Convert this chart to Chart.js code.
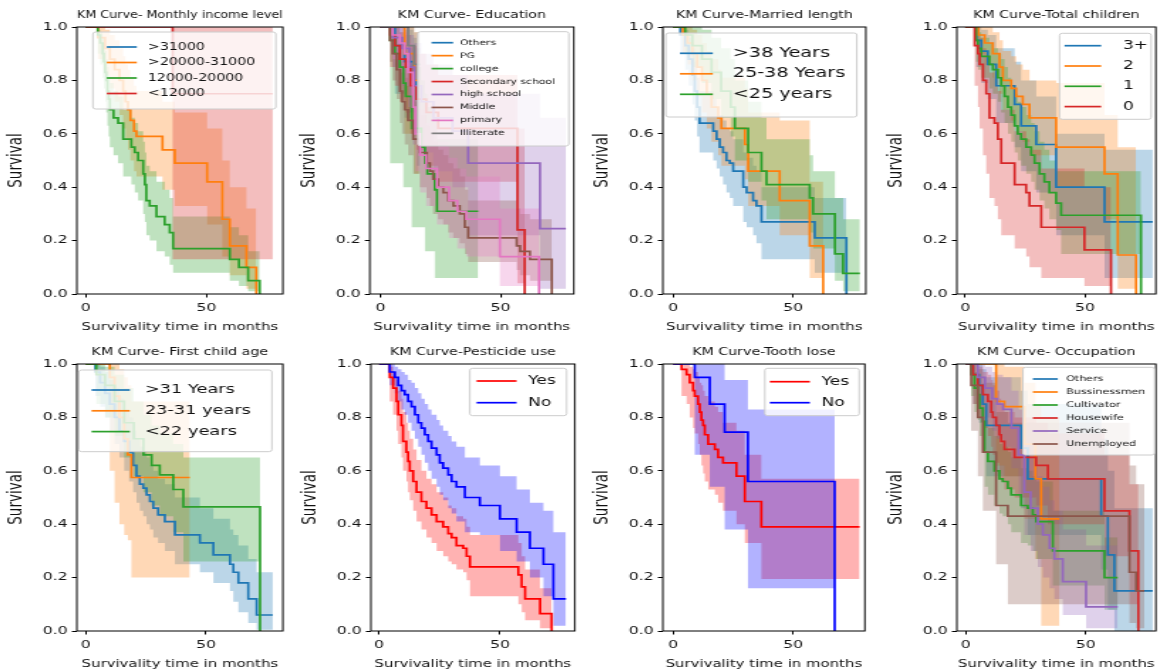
<!DOCTYPE html>
<html>
<head>
<meta charset="utf-8">
<title>KM curves</title>
<script src="https://cdn.jsdelivr.net/npm/chart.js@4.4.1/dist/chart.umd.min.js"></script>
<style>
  html, body { margin: 0; padding: 0; background: #fff; }
  body { width: 1158px; height: 671px; position: relative; overflow: hidden; }
  canvas { position: absolute; transform-origin: 0 0; }
</style>
</head>
<body>
<script>
// the reference text is wide for its height, so each panel is drawn narrow
// and widened with a css transform
const SX = 1.42;
const FONT = '"DejaVu Sans", sans-serif';
const TAB10 = ['#1f77b4', '#ff7f0e', '#2ca02c', '#d62728', '#9467bd', '#8c564b', '#e377c2', '#7f7f7f'];
const RED_BLUE = ['#ff0000', '#0000ff'];
const xTicks = [0, 50];
const yTicks = [0, 0.2, 0.4, 0.6, 0.8, 1.0];

// Monthly income level
const incomeGroups = ['>31000', '>20000-31000', '12000-20000', '<12000'];
const incomeTime = [
  [0, 5],
  [0, 5, 8, 10, 12, 14, 15.5, 16.5, 17.5, 18.5, 20, 21, 31.8, 36.9, 50.3, 56.6, 59.7, 66.6, 70.7],
  [0, 5, 6, 7, 7.5, 8, 8.5, 9, 9.5, 10, 11.5, 13.4, 15.5, 18.9, 20.3, 21.7, 23.8, 24.5, 25.1, 26.5, 29.3, 32.7, 34.8, 36.2, 59.7, 63.5, 67.3, 72.1],
  [0, 36, 77.5]
];
const incomeSurv = [
  [1, 1],
  [1, .96, .92, .88, .84, .80, .76, .72, .69, .65, .61, .59, .54, .49, .42, .28, .18, .10, 0],
  [1, .97, .94, .90, .87, .83, .80, .76, .73, .69, .66, .64, .58, .55, .53, .50, .45, .41, .35, .33, .29, .26, .23, .17, .13, .10, .05, 0],
  [1, .75, .75]
];
const incomeLow = [
  [1, 1],
  [1, .88, .82, .77, .72, .67, .62, .58, .54, .50, .46, .44, .39, .33, .26, .14, .07, .02, 0],
  [1, .90, .86, .81, .77, .72, .68, .63, .59, .55, .52, .49, .44, .41, .38, .35, .30, .27, .22, .20, .16, .14, .11, .08, .05, .03, .01, 0],
  [1, .13, .13]
];
const incomeHigh = [
  [1, 1],
  [1, 1, .99, .97, .95, .92, .89, .86, .84, .81, .78, .76, .72, .68, .62, .50, .40, .32, 0],
  [1, .99, .98, .96, .94, .91, .88, .85, .82, .79, .76, .74, .69, .66, .64, .61, .57, .53, .48, .46, .42, .39, .36, .29, .25, .22, .16, 0],
  [1, 1, 1]
];

// Education
const eduGroups = ['Others', 'PG', 'college', 'Secondary school', 'high school', 'Middle', 'primary', 'Illiterate'];
const eduTime = [
  [0, 6, 10, 13.6, 15, 16.5],
  [0, 10, 14, 16],
  [0, 4, 6, 8, 9.5, 10.5, 13, 17, 18.5, 19.5, 22.6, 23.5, 40.7],
  [0, 4, 6, 8, 10.5, 12.5, 15, 19, 24, 57, 60],
  [0, 5, 9, 12, 14, 17, 22, 30, 36.5, 66.4, 77.2],
  [0, 3.9, 5, 6.7, 8.1, 9, 10.1, 11.5, 13.6, 16.4, 19.2, 20.6, 21.9, 24, 26.1, 28.2, 30.3, 33, 35.1, 36.5, 56.7, 58.1, 62.2, 71.3],
  [0, 5, 8, 10, 11.5, 13.5, 14.5, 16.5, 19, 23.5, 28.5, 32, 35.7, 49.7, 66],
  [0, 11.5, 14, 16.5]
];
const eduSurv = [
  [1, .93, .87, .80, .73, .73],
  [1, .90, .80, .80],
  [1, .95, .90, .85, .79, .74, .62, .55, .49, .45, .39, .31, .31],
  [1, .97, .93, .88, .85, .78, .73, .68, .62, .24, 0],
  [1, .96, .92, .85, .78, .72, .66, .61, .49, .245, .245],
  [1, .95, .90, .84, .76, .72, .69, .65, .58, .53, .49, .46, .43, .40, .38, .35, .33, .30, .25, .21, .18, .16, .13, 0],
  [1, .97, .94, .90, .83, .70, .60, .52, .47, .40, .35, .31, .28, .14, 0],
  [1, .93, .86, .86]
];
const eduLow = [
  [1, .75, .66, .56, .48, .48],
  [1, .60, .45, .45],
  [1, .49, .49, .49, .40, .40, .25, .25, .16, .16, .06, .06, .06],
  [1, .85, .78, .72, .68, .60, .54, .48, .42, .04, 0],
  [1, .85, .78, .68, .60, .53, .46, .40, .22, .02, .02],
  [1, .87, .80, .73, .64, .60, .56, .52, .45, .40, .36, .33, .30, .28, .26, .23, .21, .19, .15, .12, .09, .07, .05, 0],
  [1, .88, .83, .78, .70, .56, .46, .38, .33, .26, .21, .17, .14, .03, 0],
  [1, .70, .60, .60]
];
const eduHigh = [
  [1, 1, .99, .96, .92, .92],
  [1, 1, .98, .98],
  [1, 1, 1, .98, .95, .92, .85, .80, .75, .70, .66, .58, .58],
  [1, 1, 1, .98, .97, .93, .90, .86, .82, .62, 0],
  [1, 1, 1, .97, .94, .90, .86, .82, .75, .66, .66],
  [1, 1, .97, .93, .87, .84, .81, .78, .72, .67, .63, .60, .57, .54, .52, .49, .47, .44, .39, .35, .32, .30, .28, 0],
  [1, 1, 1, .98, .94, .85, .77, .69, .64, .57, .51, .47, .44, .32, 0],
  [1, 1, .98, .98]
];

// Married length
const marriedGroups = ['>38 Years', '25-38 Years', '<25 years'];
const marriedTime = [
  [0, 3, 5, 6.5, 8, 9, 10, 11, 16.7, 18.1, 19.4, 20.8, 22.2, 23.6, 25, 29.2, 30.6, 33.3, 34.7, 36.8, 59, 72.2],
  [0, 4, 6, 8, 10, 12, 14, 16, 18.75, 20.1, 29.9, 31.25, 44.4, 56.9, 62.5],
  [0, 5, 8, 12, 16, 20, 24, 25.7, 31.25, 36.8, 38.9, 56.9, 58.3, 67.4, 70.8, 77.8]
];
const marriedSurv = [
  [1, .97, .93, .88, .82, .76, .70, .64, .61, .58, .55, .53, .50, .49, .46, .40, .38, .35, .33, .27, .21, 0],
  [1, .97, .94, .90, .85, .80, .75, .70, .66, .62, .56, .46, .35, .18, 0],
  [1, .97, .93, .88, .83, .76, .70, .62, .53, .46, .41, .36, .30, .15, .077, .077]
];
const marriedLow = [
  [1, .90, .84, .78, .71, .65, .59, .53, .50, .47, .44, .41, .38, .36, .33, .27, .25, .22, .19, .13, .08, 0],
  [1, .90, .86, .80, .74, .68, .62, .57, .52, .48, .43, .33, .22, .06, 0],
  [1, .90, .85, .79, .73, .66, .59, .50, .42, .35, .28, .23, .17, .05, .01, .01]
];
const marriedHigh = [
  [1, 1, .99, .96, .92, .87, .81, .76, .73, .70, .67, .65, .62, .61, .58, .53, .51, .48, .46, .40, .36, 0],
  [1, 1, 1, .99, .97, .94, .91, .88, .84, .81, .77, .68, .65, .42, 0],
  [1, 1, 1, .99, .96, .92, .88, .80, .72, .66, .58, .52, .46, .36, .28, .28]
];

// Total children
const childGroups = ['3+', '2', '1', '0'];
const childTime = [
  [0, 4.6, 6.7, 9.4, 12.9, 20.6, 23.3, 29.6, 37.9, 58.1, 78.2],
  [0, 5.5, 8.1, 11.5, 14.3, 15.7, 19.2, 21.25, 24, 26.8, 37.9, 58.1, 63.6, 71.25],
  [0, 4.5, 5.3, 6.7, 10.1, 11.5, 13.6, 15, 16.4, 17.8, 19.2, 20.6, 21.9, 23.3, 25.4, 27.5, 28.9, 31, 33, 35.1, 37.9, 40, 73.3],
  [0, 3.9, 5.3, 6, 7.4, 8.75, 10.1, 12.2, 13.6, 15, 20.6, 25.4, 26.8, 31.7, 49.7, 60.8]
];
const childSurv = [
  [1, .95, .91, .86, .78, .71, .63, .56, .40, .27, .27],
  [1, .97, .94, .90, .85, .80, .77, .74, .71, .66, .55, .45, .146, 0],
  [1, .95, .92, .89, .86, .84, .81, .78, .74, .70, .67, .63, .60, .58, .55, .52, .49, .45, .42, .38, .34, .295, 0],
  [1, .93, .90, .86, .80, .75, .66, .64, .58, .49, .41, .38, .33, .25, .165, 0]
];
const childLow = [
  [1, .85, .79, .73, .64, .55, .46, .38, .22, .06, .06],
  [1, .90, .86, .81, .75, .69, .65, .61, .57, .52, .40, .28, .02, 0],
  [1, .87, .84, .81, .77, .75, .72, .68, .64, .60, .57, .53, .50, .48, .45, .42, .39, .35, .32, .28, .24, .15, 0],
  [1, .78, .70, .62, .52, .45, .36, .33, .28, .22, .17, .14, .10, .06, .03, 0]
];
const childHigh = [
  [1, 1, .99, .97, .92, .87, .80, .74, .60, .54, .54],
  [1, 1, 1, .98, .95, .91, .89, .86, .84, .80, .79, .67, .55, 0],
  [1, .99, .98, .96, .94, .92, .90, .88, .85, .81, .78, .75, .72, .70, .67, .64, .61, .57, .54, .50, .46, .46, 0],
  [1, 1, .98, .96, .92, .89, .83, .81, .76, .69, .61, .58, .54, .47, .40, 0]
];

// First child age
const fcGroups = ['>31 Years', '23-31 years', '<22 years'];
const fcTime = [
  [0, 4, 6, 8, 10, 12, 14, 16, 18, 19.7, 21.1, 22.5, 23.9, 25.3, 26.7, 28.1, 30.1, 32.9, 37.1, 47.5, 53.1, 60, 61.4, 63.5, 67.6, 71.1, 77.8],
  [0, 10, 12, 14, 16, 17.5, 19, 43.3],
  [0, 4.4, 8, 12, 16, 20, 24, 27.4, 30.8, 36.4, 40.6, 72.5]
];
const fcSurv = [
  [1, .97, .93, .89, .85, .80, .75, .71, .67, .62, .58, .55, .535, .51, .485, .46, .435, .41, .36, .33, .285, .25, .22, .18, .12, .06, .06],
  [1, .95, .88, .80, .72, .66, .575, .575],
  [1, .96, .92, .86, .78, .72, .66, .62, .585, .53, .465, 0]
];
const fcLow = [
  [1, .88, .84, .80, .75, .70, .65, .60, .56, .52, .48, .45, .43, .40, .38, .35, .33, .30, .25, .22, .18, .15, .11, .07, .03, .005, .005],
  [1, .60, .48, .40, .36, .34, .20, .20],
  [1, .85, .80, .73, .65, .58, .52, .47, .43, .37, .26, 0]
];
const fcHigh = [
  [1, 1, .99, .97, .94, .91, .87, .83, .80, .75, .72, .69, .67, .65, .62, .60, .57, .55, .50, .46, .42, .38, .36, .32, .27, .22, .22],
  [1, 1, 1, .98, .95, .92, .86, .86],
  [1, 1, .99, .96, .91, .86, .81, .77, .74, .70, .65, 0]
];

// Pesticide use
const pestGroups = ['Yes', 'No'];
const pestTime = [
  [0, 4.4, 5.8, 7.2, 7.9, 9.25, 9.9, 11.3, 12, 12.7, 14.1, 15.5, 17.5, 19.6, 21.7, 23.8, 26.5, 28.6, 30, 32, 34.8, 36.2, 37.6, 57.6, 59, 60.4, 66.6, 71.4],
  [0, 4.4, 6.5, 7.9, 9.25, 10.6, 12, 13.4, 14.8, 16.2, 17.5, 18.9, 20.3, 21.7, 23.8, 25.1, 26.5, 28.6, 30, 32, 35.5, 41.7, 50, 56.9, 62.4, 68, 72.1, 77.3]
];
const pestSurv = [
  [1, .95, .91, .86, .81, .77, .71, .67, .635, .60, .56, .52, .485, .46, .435, .41, .39, .365, .35, .32, .31, .28, .24, .21, .165, .12, .065, 0],
  [1, .97, .95, .92, .90, .885, .86, .84, .81, .78, .76, .735, .71, .685, .66, .63, .61, .585, .56, .54, .50, .47, .42, .37, .31, .25, .12, .12]
];
const pestLow = [
  [1, .86, .81, .75, .70, .65, .60, .56, .52, .49, .45, .41, .38, .35, .33, .30, .28, .26, .25, .23, .22, .19, .13, .10, .07, .04, .01, 0],
  [1, .92, .89, .86, .83, .81, .78, .75, .72, .69, .66, .63, .60, .57, .54, .51, .49, .46, .44, .41, .37, .36, .30, .26, .20, .13, .02, .02]
];
const pestHigh = [
  [1, .99, .97, .94, .90, .87, .82, .78, .75, .72, .68, .64, .60, .57, .55, .52, .50, .47, .46, .43, .42, .39, .36, .33, .28, .23, .16, 0],
  [1, 1, .99, .98, .97, .96, .94, .93, .91, .89, .87, .85, .83, .81, .79, .77, .75, .73, .71, .69, .65, .62, .58, .53, .48, .45, .37, .37]
];

// Tooth lose
const toothGroups = ['Yes', 'No'];
const toothTime = [
  [0, 3.5, 5.6, 6.9, 8.3, 9, 10.4, 11.1, 11.8, 12.5, 13.2, 14.6, 17.4, 18.75, 20.8, 26.4, 29.9, 36.8, 77.8],
  [0, 9, 15.3, 21.5, 31.2, 67.4]
];
const toothSurv = [
  [1, .98, .96, .93, .90, .88, .85, .82, .79, .77, .735, .70, .68, .65, .63, .58, .485, .39, .39],
  [1, .95, .85, .745, .56, 0]
];
const toothLow = [
  [1, .88, .85, .80, .76, .74, .70, .66, .62, .59, .56, .53, .51, .48, .45, .40, .33, .195, .195],
  [1, .66, .54, .38, .16, 0]
];
const toothHigh = [
  [1, 1, 1, .99, .98, .97, .95, .93, .92, .90, .88, .86, .84, .82, .78, .75, .66, .57, .57],
  [1, 1, 1, .94, .83, 0]
];

// Occupation
const occGroups = ['Others', 'Bussinessmen', 'Cultivator', 'Housewife', 'Service', 'Unemployed'];
const occTime = [
  [0, 3, 5.5, 7, 8.5, 23, 25.8, 56.4, 59.2, 61.9, 77.9],
  [0, 12.6, 16.1, 24.4, 29, 31.4, 39],
  [0, 2.2, 3.6, 5, 5.7, 7.1, 7.8, 9.2, 11.9, 14, 15.4, 17.5, 18.9, 23, 25.8, 27.9, 29.3, 36.25, 57.8, 63.3],
  [0, 3, 5, 7.1, 9.2, 10.6, 11.25, 12.6, 14, 14.7, 16.1, 20.3, 29.3, 34.2, 57.8, 68.2, 71.9],
  [0, 5, 8, 11, 13, 15.5, 19, 22, 24.4, 27, 30, 32.1, 34.9, 36.9, 40.4, 50.1, 63.3],
  [0, 2.2, 5, 7.1, 12.6, 17.5, 68.2, 71, 74.4]
];
const occSurv = [
  [1, .96, .92, .85, .77, .685, .57, .43, .285, .15, .15],
  [1, .86, .84, .70, .57, .42, .42],
  [1, .96, .91, .885, .835, .785, .67, .635, .60, .57, .56, .535, .51, .47, .46, .435, .41, .30, .20, .20],
  [1, .96, .92, .885, .86, .82, .80, .77, .735, .71, .68, .65, .62, .57, .45, .30, 0],
  [1, .95, .91, .87, .85, .83, .76, .66, .52, .46, .40, .36, .31, .27, .185, .09, .09],
  [1, .92, .80, .67, .47, .43, .22, .15, .15]
];
const occLow = [
  [1, .85, .78, .68, .58, .46, .36, .23, .08, 0, 0],
  [1, .62, .58, .42, .27, .02, .02],
  [1, .88, .82, .79, .73, .67, .54, .51, .47, .44, .43, .40, .37, .33, .32, .30, .27, .17, .08, .08],
  [1, .85, .80, .76, .73, .69, .66, .63, .59, .56, .53, .50, .47, .40, .28, .10, 0],
  [1, .85, .80, .75, .72, .69, .61, .50, .36, .30, .24, .20, .16, .12, .06, .01, .01],
  [1, .75, .58, .45, .25, .10, .03, .01, .01]
];
const occHigh = [
  [1, 1, 1, .98, .95, .90, .85, .72, .60, .46, .46],
  [1, 1, .99, .93, .85, .80, .80],
  [1, .99, .97, .95, .92, .89, .79, .76, .73, .70, .69, .67, .65, .61, .60, .58, .56, .45, .35, .35],
  [1, 1, .99, .97, .96, .94, .92, .90, .87, .85, .82, .80, .78, .74, .66, .55, 0],
  [1, 1, .99, .97, .96, .95, .90, .83, .70, .65, .58, .54, .49, .45, .38, .32, .32],
  [1, 1, .98, .93, .82, .78, .62, .55, .55]
];

// box = plot area in page px, legend offsets in page px from the plot's top-left
const panels = [
  { title: 'KM Curve- Monthly income level', groups: incomeGroups, time: incomeTime, surv: incomeSurv, low: incomeLow, high: incomeHigh,
    colors: TAB10, box: [77, 27, 283, 294], xr: [-3.7, 81.7],
    legend: { box: [16, 5, 199, 82], row0: 20, gap: 15.5, line: [30, 60], text: 71, size: 10 } },
  { title: 'KM Curve- Education', groups: eduGroups, time: eduTime, surv: eduSurv, low: eduLow, high: eduHigh,
    colors: TAB10, box: [370, 27, 574, 294], xr: [-4.46, 80.5],
    legend: { box: [48, 4.7, 199, 119], row0: 15.7, gap: 12.95, line: [61.7, 83.3], text: 90, size: 7.6 } },
  { title: 'KM Curve-Married length', groups: marriedGroups, time: marriedTime, surv: marriedSurv, low: marriedLow, high: marriedHigh,
    colors: TAB10, box: [663, 27, 866, 294], xr: [-4.3, 80.3],
    legend: { box: [3, 6, 194, 90], row0: 26.3, gap: 20.5, line: [17, 50], text: 70, size: 13.5 } },
  { title: 'KM Curve-Total children', groups: childGroups, time: childTime, surv: childSurv, low: childLow, high: childHigh,
    colors: TAB10, box: [957, 27, 1156, 294], xr: [-3.5, 79.5],
    legend: { box: [102.7, 6.3, 194.3, 92.3], row0: 18.7, gap: 20.3, line: [107.7, 144.3], text: 166, size: 12 } },
  { title: 'KM Curve- First child age', groups: fcGroups, time: fcTime, surv: fcSurv, low: fcLow, high: fcHigh,
    colors: TAB10, box: [77, 364, 283, 631], xr: [-3.7, 82],
    legend: { box: [2, 6, 195, 87.7], row0: 26, gap: 20.8, line: [14.7, 53], text: 68, size: 12.5 } },
  { title: 'KM Curve-Pesticide use', groups: pestGroups, time: pestTime, surv: pestSurv, low: pestLow, high: pestHigh,
    colors: RED_BLUE, box: [371, 364, 575, 631], xr: [-3.4, 81],
    legend: { box: [99, 4.3, 195.7, 51.7], row0: 17, gap: 21.7, line: [105.7, 145.7], text: 157.3, size: 12 } },
  { title: 'KM Curve-Tooth lose', groups: toothGroups, time: toothTime, surv: toothSurv, low: toothLow, high: toothHigh,
    colors: RED_BLUE, box: [663, 364, 865, 631], xr: [-4.3, 80],
    legend: { box: [102, 4.3, 196.3, 51.7], row0: 17.7, gap: 21, line: [107, 147], text: 158.7, size: 12 } },
  { title: 'KM Curve- Occupation', groups: occGroups, time: occTime, surv: occSurv, low: occLow, high: occHigh,
    colors: TAB10, box: [957, 364, 1156, 631], xr: [-3.75, 79.2],
    legend: { box: [66, 3.3, 197.7, 91], row0: 15, gap: 13, line: [76, 101], text: 109.3, size: 7.8 } }
];

function rgba(hex, a) {
  const n = parseInt(hex.slice(1), 16);
  return `rgba(${n >> 16},${(n >> 8) & 255},${n & 255},${a})`;
}

function makePanel(p) {
  const [L, T, R, B] = p.box;
  const yw = 52, titleH = 27, xh = 40;
  const plotW = (R - L) / SX;
  const cw = Math.ceil(yw + plotW + 4);
  const ch = titleH + (B - T) + xh;

  const canvas = document.createElement('canvas');
  canvas.width = cw;
  canvas.height = ch;
  canvas.style.left = (L - yw * SX) + 'px';
  canvas.style.top = (T - titleH) + 'px';
  canvas.style.transform = `scaleX(${SX})`;
  document.body.appendChild(canvas);

  const n = p.groups.length;
  const pts = (arr, i) => p.time[i].map((t, j) => ({ x: t, y: arr[i][j] }));
  const bands = [], lines = [];
  p.groups.forEach((name, i) => {
    const order = n - i;  // first group at the bottom, like matplotlib
    bands.push({ data: pts(p.high, i), fill: '+1', backgroundColor: rgba(p.colors[i], 0.3),
      borderWidth: 0, borderColor: 'transparent', stepped: true, order });
    bands.push({ data: pts(p.low, i), fill: false, borderWidth: 0, borderColor: 'transparent', stepped: true, order });
    lines.push({ label: name, data: pts(p.surv, i), borderColor: p.colors[i], borderWidth: 1.7,
      fill: false, stepped: true, order });
  });

  const lg = p.legend;
  const overlay = {
    id: 'overlay',
    afterDraw(chart) {
      const { ctx, chartArea: a } = chart;
      ctx.save();
      ctx.strokeStyle = '#000';
      ctx.lineWidth = 1;
      ctx.strokeRect(a.left, a.top, a.right - a.left, a.bottom - a.top);

      const X = v => a.left + v / SX, Y = v => a.top + v;
      ctx.beginPath();
      const bx = X(lg.box[0]), by = Y(lg.box[1]), bw = (lg.box[2] - lg.box[0]) / SX, bh = lg.box[3] - lg.box[1];
      if (ctx.roundRect) ctx.roundRect(bx, by, bw, bh, 2); else ctx.rect(bx, by, bw, bh);
      ctx.fillStyle = 'rgba(255,255,255,0.8)';
      ctx.fill();
      ctx.strokeStyle = '#cccccc';
      ctx.stroke();

      ctx.font = `${lg.size}px ${FONT}`;
      ctx.textBaseline = 'middle';
      lines.forEach((d, i) => {
        const y = Y(lg.row0 + i * lg.gap);
        ctx.strokeStyle = d.borderColor;
        ctx.lineWidth = 1.7;
        ctx.beginPath();
        ctx.moveTo(X(lg.line[0]), y);
        ctx.lineTo(X(lg.line[1]), y);
        ctx.stroke();
        ctx.fillStyle = '#111';
        ctx.fillText(d.label, X(lg.text), y);
      });
      ctx.restore();
    }
  };

  const grid = { drawOnChartArea: false, tickLength: 3.5, tickColor: '#000', tickWidth: 1 };

  new Chart(canvas, {
    type: 'line',
    data: { datasets: [...bands, ...lines] },
    options: {
      responsive: false,
      animation: false,
      events: [],
      layout: { padding: { left: 0, top: 0, bottom: 0, right: cw - yw - plotW } },
      elements: { point: { radius: 0 }, line: { tension: 0 } },
      plugins: {
        legend: { display: false },
        tooltip: { enabled: false },
        filler: { drawTime: 'beforeDatasetsDraw' },
        title: {
          display: true, text: p.title, fullSize: false, color: '#111',
          font: { family: FONT, size: 10, weight: 'normal' },
          padding: { top: 9, bottom: 6 }
        }
      },
      scales: {
        x: {
          type: 'linear', min: p.xr[0], max: p.xr[1],
          afterBuildTicks: s => { s.ticks = xTicks.map(v => ({ value: v })); },
          afterFit: s => { s.height = xh; },
          ticks: { color: '#111', font: { family: FONT, size: 11 }, padding: 4, maxRotation: 0, callback: v => String(v) },
          grid,
          border: { display: false },
          title: { display: true, text: 'Survivality time in months', color: '#111',
            font: { family: FONT, size: 10.5 }, padding: { top: 0, bottom: 0 } }
        },
        y: {
          type: 'linear', min: 0, max: 1,
          afterBuildTicks: s => { s.ticks = yTicks.map(v => ({ value: v })); },
          afterFit: s => { s.width = yw; },
          ticks: { color: '#111', font: { family: FONT, size: 11 }, padding: 3, callback: v => v.toFixed(1) },
          grid,
          border: { display: false },
          title: { display: true, text: 'Survival', color: '#111',
            font: { family: FONT, size: 13.5 }, padding: { top: 1, bottom: 0 } }
        }
      }
    },
    plugins: [overlay]
  });
}

panels.forEach(makePanel);
</script>
</body>
</html>
